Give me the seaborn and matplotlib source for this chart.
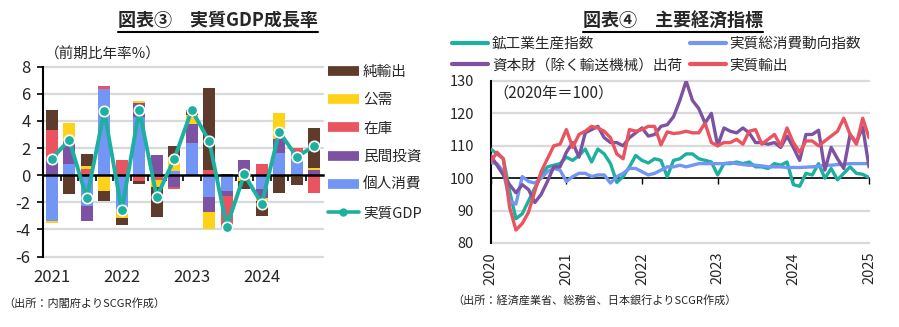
import numpy as np
import pandas as pd
import matplotlib
matplotlib.use("Agg")
import matplotlib.pyplot as plt
from matplotlib.lines import Line2D
from matplotlib.transforms import blended_transform_factory
import seaborn as sns

# ---------------- data: left panel (quarterly contributions, % annualised) ----------------
quarters = ["2021Q1", "2021Q2", "2021Q3", "2021Q4",
            "2022Q1", "2022Q2", "2022Q3", "2022Q4",
            "2023Q1", "2023Q2", "2023Q3", "2023Q4",
            "2024Q1", "2024Q2", "2024Q3", "2024Q4"]
year_labels_left = ["2021", "2022", "2023", "2024"]
consumption = [-3.4, 0.85, -2.3, 6.35, -2.75, 4.3, 0.0, 0.27, 2.35, -1.6, -1.2, -0.15, -1.05, 1.65, 1.7, 0.0]
investment = [1.2, 1.7, -1.05, 0.0, 0.0, 1.0, 1.45, -0.84, 1.45, -1.1, -0.35, 1.1, -0.6, 1.0, 0.0, 0.4]
inventory = [2.1, 0.0, 0.45, 0.22, 1.1, -0.4, -0.35, -0.2, 0.0, 0.4, -2.35, 0.0, 0.85, 0.0, 0.33, -1.3]
public = [-0.15, 1.3, 0.2, -1.15, -0.42, 0.17, -0.5, 1.06, 0.62, -1.25, 0.0, -0.3, -0.25, 1.95, -0.12, 0.15]
net_exports = [1.5, -1.4, 0.9, -0.73, -0.5, -0.25, -2.25, 0.79, 0.35, 6.05, 0.1, -0.55, -1.1, -1.3, -0.6, 2.95]
real_gdp = [1.2, 2.6, -1.7, 4.7, -2.6, 4.8, -1.6, 1.2, 4.8, 2.5, -3.8, 0.05, -2.1, 3.2, 1.35, 2.15]

# ---------------- data: right panel (monthly index, 2020=100, Jan 2020 - Jan 2025) ----------------
year_labels_right = ["2020", "2021", "2022", "2023", "2024", "2025"]
industrial_production = [
    109, 107.5, 106, 96, 87.5, 89, 93, 97, 100.5, 103.5, 104, 104.5,
    106.5, 105.5, 107, 109, 105, 109, 107.5, 104.5, 98.7, 100.5, 103.5, 107,
    105.5, 104.7, 106, 105.5, 100.5, 105.5, 106, 107.5, 107.5, 106, 105.5, 105,
    101, 104.5, 104.5, 105, 104.5, 105, 103.5, 103.5, 103, 104.5, 104, 105,
    98, 97.5, 101.5, 101, 104.5, 100, 103, 99.5, 101.5, 103.5, 101.5, 101.2,
    100.2]
consumption_index = [
    104.8, 104.5, 102, 93, 92, 100.5, 99, 98.5, 100, 102, 103, 102.5,
    99, 100.5, 101.5, 101.5, 100.5, 101, 101, 98.5, 100.5, 101.5, 103, 103,
    102, 101, 101.5, 102.5, 103.5, 103.5, 104, 103.5, 104, 104.5, 104.5, 104.5,
    104.5, 104.5, 104.8, 104.5, 104.2, 104, 104, 103.8, 103.5, 103.5, 103.5, 103.3,
    103.3, 103.3, 103.4, 103.5, 103.7, 104, 104, 104.2, 104.3, 104.5, 104.5, 104.5,
    104.5]
capital_goods = [
    107, 104, 101, 98, 95.5, 98, 96.5, 92.5, 95, 99, 103.5, 103.5,
    108, 111, 106.5, 114, 115, 116, 112.5, 111, 111, 110, 112.5, 114,
    115.5, 113, 113.5, 116, 116.5, 119, 124, 130, 124, 121.5, 117, 120,
    110, 115.5, 114.5, 114, 115.5, 114, 111, 111, 110.5, 111, 109.5, 113,
    109.5, 105.5, 113.5, 113.5, 114.8, 102.5, 109.5, 106, 103, 113.5, 111, 115.8,
    103.5]
real_exports = [
    105, 108, 106, 91, 84, 86, 89.5, 96, 102, 106, 110, 110.5,
    115, 109.5, 113.5, 114.5, 116, 115.5, 114.5, 112.5, 107.5, 106, 115, 114.5,
    115, 116, 116, 110.3, 114.3, 113.8, 114, 114.5, 114, 114, 117, 111,
    110, 111, 111, 112, 110.5, 114.5, 115, 110.5, 112, 113.5, 110, 115.5,
    111, 108, 111.5, 111.5, 110, 111.5, 113, 114.5, 118.5, 113.5, 110.5, 118.5,
    112.5]

# ---------------- style ----------------
sns.set_theme(style="white")
plt.rcParams["font.family"] = ["Noto Sans CJK JP", "DejaVu Sans"]
plt.rcParams["axes.unicode_minus"] = False

C_BROWN = "#5E3B2B"
C_YELLOW = "#FFD21A"
C_RED = "#EA5460"
C_PURPLE = "#7D52A3"
C_BLUE = "#7395F3"
C_TEAL = "#1CB0A0"
C_GRID = "#D9D9D9"

W, H = 899, 327
fig = plt.figure(figsize=(W / 100, H / 100), dpi=100)


def fx(px):
    return px / W


def fy(py):
    return 1 - py / H


# ================= LEFT PANEL =================
ax1 = fig.add_axes([fx(43), fy(256.5), (323 - 43) / W, (256.5 - 66.7) / H])
x = np.arange(len(quarters))
pos_b = np.zeros(len(x))
neg_b = np.zeros(len(x))
stack = [("個人消費", consumption, C_BLUE),
         ("民間投資", investment, C_PURPLE),
         ("在庫", inventory, C_RED),
         ("公需", public, C_YELLOW),
         ("純輸出", net_exports, C_BROWN)]
for name, vals, col in stack:
    v = np.array(vals, dtype=float)
    bottoms = np.where(v >= 0, pos_b, neg_b)
    ax1.bar(x, v, width=0.67, bottom=bottoms, color=col, linewidth=0, zorder=2)
    pos_b += np.clip(v, 0, None)
    neg_b += np.clip(v, None, 0)

sns.lineplot(x=x, y=real_gdp, ax=ax1, color=C_TEAL, linewidth=2.8, marker="o",
             markersize=7.5, markeredgecolor="white", markeredgewidth=1.2,
             zorder=5, legend=False)

ax1.set_xlim(-0.5, 15.5)
ax1.set_ylim(-6, 8)
for yv in range(-6, 9, 2):
    if yv != 0:
        ax1.axhline(yv, color=C_GRID, lw=1.6, zorder=0, clip_on=False)
ax1.set_yticks(range(-6, 9, 2))
ax1.set_yticklabels([str(v) for v in range(-6, 9, 2)], fontsize=12)
ax1.tick_params(axis="y", length=4, width=1.2, color="black", pad=5, left=True)
for s in ("top", "right"):
    ax1.spines[s].set_visible(False)
ax1.spines["left"].set_color("black")
ax1.spines["left"].set_linewidth(1.5)
ax1.spines["bottom"].set_position(("data", 0))
ax1.spines["bottom"].set_color("black")
ax1.spines["bottom"].set_linewidth(1.8)
ax1.spines["bottom"].set_zorder(4)
ax1.set_xticks(np.arange(0.5, 15.0, 1.0))
ax1.set_xticklabels([])
ax1.tick_params(axis="x", length=4, width=1.2, color="black", direction="out", bottom=True)
ax1.set_xlabel("")
ax1.set_ylabel("")
ax1.grid(False)

tr1 = blended_transform_factory(ax1.transData, fig.transFigure)
for pos, lab in zip([0, 4, 8, 12], year_labels_left):
    ax1.text(pos, fy(278), lab, transform=tr1, ha="center", va="center", fontsize=12)

fig.text(fx(45), fy(54), "（前期比年率%）", ha="left", va="center", fontsize=10.5)

h_left = [Line2D([0], [0], color=C_BROWN, lw=7, solid_capstyle="butt"),
          Line2D([0], [0], color=C_YELLOW, lw=7, solid_capstyle="butt"),
          Line2D([0], [0], color=C_RED, lw=7, solid_capstyle="butt"),
          Line2D([0], [0], color=C_PURPLE, lw=7, solid_capstyle="butt"),
          Line2D([0], [0], color=C_BLUE, lw=7, solid_capstyle="butt"),
          Line2D([0], [0], color=C_TEAL, lw=2.6, marker="o", markersize=5)]
l_left = ["純輸出", "公需", "在庫", "民間投資", "個人消費", "実質GDP"]
fig.legend(h_left, l_left, loc="upper left", bbox_to_anchor=(fx(328), fy(65)),
           frameon=False, fontsize=10.5, handlelength=2.1, handletextpad=0.3,
           labelspacing=0.98, borderaxespad=0, borderpad=0)

# ================= RIGHT PANEL =================
ax2 = fig.add_axes([fx(490.7), fy(243), (869 - 490.7) / W, (243 - 81) / H])
months = np.arange(len(industrial_production))
names = ["鉱工業生産指数", "実質総消費動向指数", "資本財（除く輸送機械）出荷", "実質輸出"]
series = [industrial_production, consumption_index, capital_goods, real_exports]
df = pd.concat([pd.DataFrame({"month": months, "value": s, "series": n})
                for n, s in zip(names, series)], ignore_index=True)
palette = {names[0]: C_TEAL, names[1]: C_BLUE, names[2]: C_PURPLE, names[3]: C_RED}
for yv in [80, 90, 110, 120, 130]:
    ax2.axhline(yv, color=C_GRID, lw=1.6, zorder=0, clip_on=False)
sns.lineplot(data=df, x="month", y="value", hue="series", hue_order=names,
             palette=palette, linewidth=2.4, ax=ax2, legend=False, zorder=3)

ax2.set_xlim(0, 60)
ax2.set_ylim(80, 130)
ax2.set_yticks(range(80, 131, 10))
ax2.set_yticklabels([str(v) for v in range(80, 131, 10)], fontsize=10.5)
ax2.tick_params(axis="y", length=0, pad=12)
for s in ("top", "right"):
    ax2.spines[s].set_visible(False)
ax2.spines["left"].set_color("black")
ax2.spines["left"].set_linewidth(1.5)
ax2.spines["bottom"].set_position(("data", 100))
ax2.spines["bottom"].set_color("black")
ax2.spines["bottom"].set_linewidth(1.2)
ax2.set_xticks(range(0, 61, 12))
ax2.set_xticklabels([])
ax2.tick_params(axis="x", length=4, width=1.0, color="black", direction="out", bottom=True)
ax2.set_xlabel("")
ax2.set_ylabel("")
ax2.grid(False)

tr2 = blended_transform_factory(ax2.transData, fig.transFigure)
for pos, lab in zip(range(0, 61, 12), year_labels_right):
    ax2.text(pos, fy(252), lab, transform=tr2, ha="center", va="top",
             rotation=90, fontsize=10.5)

fig.text(fx(493), fy(93), "（2020年＝100）", ha="left", va="center", fontsize=11)

h_right = [Line2D([0], [0], color=C_TEAL, lw=3),
           Line2D([0], [0], color=C_PURPLE, lw=3),
           Line2D([0], [0], color=C_BLUE, lw=3),
           Line2D([0], [0], color=C_RED, lw=3)]
l_right = [names[0], names[2], names[1], names[3]]
fig.legend(h_right, l_right, loc="upper left", bbox_to_anchor=(fx(452), fy(37)),
           ncol=2, frameon=False, fontsize=10.5, handlelength=2.5, handletextpad=0.25,
           columnspacing=0.5, labelspacing=0.52, borderaxespad=0, borderpad=0)

# ================= titles & sources =================
t1 = fig.text(fx(218), fy(21), "図表③　実質GDP成長率", ha="center", va="center",
              fontsize=13, fontweight="bold")
t2 = fig.text(fx(673), fy(21), "図表④　主要経済指標", ha="center", va="center",
              fontsize=13, fontweight="bold")
fig.text(fx(3), fy(303), "（出所：内閣府よりSCGR作成）", ha="left", va="center", fontsize=8)
fig.text(fx(452), fy(300), "（出所：経済産業省、総務省、日本銀行よりSCGR作成）",
         ha="left", va="center", fontsize=8)

fig.canvas.draw()
for t in (t1, t2):
    bb = t.get_window_extent()
    yline = bb.y0 - 1
    fig.add_artist(Line2D([bb.x0 / W, bb.x1 / W], [yline / H, yline / H],
                          color="black", lw=1.5, transform=fig.transFigure))

fig.savefig("out.png", dpi=100)
